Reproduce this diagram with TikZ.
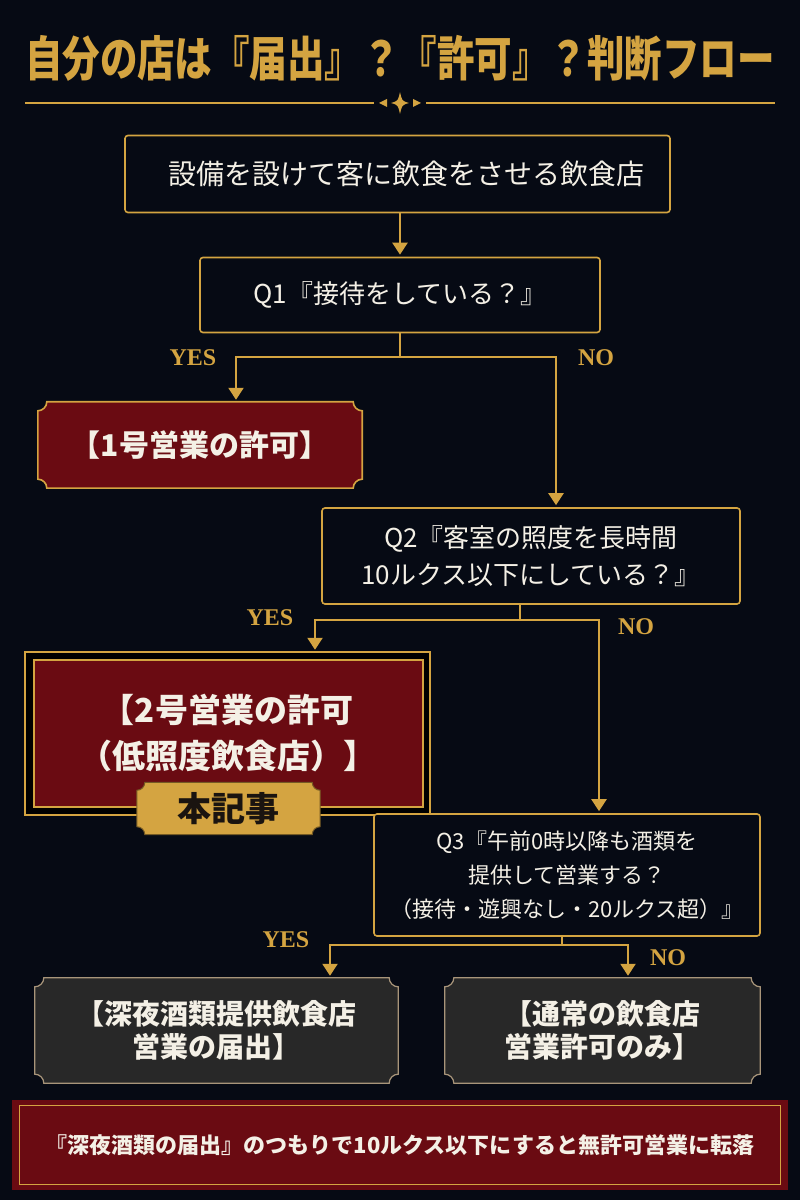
\documentclass[tikz,border=0pt]{standalone}
\usepackage{fontspec}
\setmainfont{Noto Sans CJK JP}
\newfontfamily\yesnofont{Liberation Serif}
\usetikzlibrary{arrows.meta, positioning, calc, backgrounds}
\definecolor{bgnavy}{HTML}{060A14}
\definecolor{gold}{HTML}{D4A441}
\definecolor{wine}{HTML}{6A0B12}
\definecolor{coal}{HTML}{282828}
\definecolor{tan}{HTML}{A8957A}
\definecolor{ivory}{HTML}{F4F0E6}
\definecolor{badgeink}{HTML}{1A1410}

% box outline with concave corners
\newcommand{\notchpath}[2]{%
  ([yshift=#2]#1.south west) -- ([yshift=-#2]#1.north west)
  arc[start angle=-90, end angle=0, radius=#2] -- ([xshift=-#2]#1.north east)
  arc[start angle=180, end angle=270, radius=#2] -- ([yshift=#2]#1.south east)
  arc[start angle=90, end angle=180, radius=#2] -- ([xshift=#2]#1.south west)
  arc[start angle=0, end angle=90, radius=#2] -- cycle}

\begin{document}
\begin{tikzpicture}[x=1pt, y=1pt,
    qbox/.style={draw=gold, line width=1.6pt, rounded corners=3pt, fill=bgnavy,
      text=ivory, align=center, inner sep=0pt},
    plain/.style={text=ivory, align=center, inner sep=0pt},
    flow/.style={draw=gold, line width=2.2pt},
    flowarrow/.style={flow, shorten >=2pt, -{Triangle[width=15pt,length=12pt]}},
    yesno/.style={text=gold, font=\yesnofont\bfseries\fontsize{24}{24}\selectfont}]
    \useasboundingbox (0,0) rectangle (800,1200);

    % Title
    \node[text=gold, yscale=1.28, font=\bfseries\fontsize{37.5}{38}\selectfont] (title) at (400,1142)
        {自分の店は『届出』？『許可』？判断フロー};
    \draw[gold, line width=1.5pt] (25,1097) -- (374,1097);
    \draw[gold, line width=1.5pt] (426,1097) -- (775,1097);
    \fill[gold] (400,1108) .. controls (402,1099) .. (409,1097) .. controls (402,1095) .. (400,1086)
        .. controls (398,1095) .. (391,1097) .. controls (398,1099) .. (400,1108);
    \fill[gold] (379,1097) -- (387,1101) -- (387,1093) -- cycle;
    \fill[gold] (421,1097) -- (413,1101) -- (413,1093) -- cycle;

    % Questions
    \node[qbox, minimum width=545, minimum height=77, font=\fontsize{28}{34}\selectfont] (start) at (397.5,1026)
        {\hspace*{18pt}設備を設けて客に飲食をさせる飲食店};
    \node[qbox, minimum width=400, minimum height=75, font=\fontsize{26}{32}\selectfont] (q1) at (400,905)
        {Q1『接待をしている？』};
    \node[qbox, minimum width=418, minimum height=96, font=\fontsize{26}{37}\selectfont] (q2) at (531,644)
        {Q2『客室の照度を長時間\\10ルクス以下にしている？』};
    \node[qbox, minimum width=386, minimum height=122, font=\fontsize{22}{34}\selectfont] (q3) at (567,325)
        {Q3『午前0時以降も酒類を\\提供して営業する？\\（接待・遊興なし・20ルクス超）』};

    % Results
    \node[plain, minimum width=324, minimum height=86, font=\bfseries\fontsize{30}{36}\selectfont] (perm1) at (200,755)
        {【1号営業の許可】};
    \node[plain, minimum width=405, minimum height=163, font=\bfseries\fontsize{33}{46}\selectfont] (perm2) at (227.5,466.5)
        {【2号営業の許可\\（低照度飲食店）】};
    \node[minimum width=183, minimum height=52, inner sep=0pt, text=badgeink,
        font=\bfseries\fontsize{34}{34}\selectfont] (badge) at (228.5,391.5) {本記事};
    \node[plain, minimum width=363, minimum height=105, font=\bfseries\fontsize{28}{33}\selectfont] (late) at (216.5,169.5)
        {【深夜酒類提供飲食店\\営業の届出】};
    \node[plain, minimum width=315, minimum height=105, font=\bfseries\fontsize{28}{33}\selectfont] (normal) at (602.5,169.5)
        {【通常の飲食店\\営業許可のみ】};
    \node[plain, minimum width=776, minimum height=90, font=\bfseries\fontsize{22}{24}\selectfont] (warn) at (400,55)
        {『深夜酒類の届出』のつもりで10ルクス以下にすると無許可営業に転落};

    % Frames
    \begin{scope}[on background layer]
        \fill[bgnavy] (0,0) rectangle (800,1200);
        \filldraw[fill=wine, draw=gold, line width=1.6pt] \notchpath{perm1}{9};
        \filldraw[fill=black, draw=gold, line width=2pt] (perm2.south west) rectangle (perm2.north east);
        \filldraw[fill=wine, draw=gold, line width=2.4pt] ([shift={(9,8)}]perm2.south west)
            rectangle ([shift={(-7,-8)}]perm2.north east);
        \filldraw[fill=gold, draw=gold!55!black, line width=1pt] \notchpath{badge}{8};
        \filldraw[fill=coal, draw=tan, line width=1.2pt] \notchpath{late}{9};
        \filldraw[fill=coal, draw=tan, line width=1.2pt] \notchpath{normal}{9};
        \fill[wine] (warn.south west) rectangle (warn.north east);
        \draw[gold, line width=1pt] ([shift={(8,6)}]warn.south west) rectangle ([shift={(-8,-6)}]warn.north east);
    \end{scope}

    % Connectors
    \coordinate (j1) at (400,843);
    \coordinate (j1yes) at (236,843);
    \coordinate (j1no) at (556,843);
    \coordinate (j2) at (520,580);
    \coordinate (j2yes) at (315,580);
    \coordinate (j2no) at (599,580);
    \coordinate (j3) at (562,255);
    \coordinate (j3yes) at (330,255);
    \coordinate (j3no) at (628,255);

    \draw[flowarrow] (q1.north |- start.south) -- (q1.north);
    \draw[flow] (q1.south) -- (j1);
    \draw[flowarrow] (j1) -- (j1yes) -- (j1yes |- perm1.north);
    \draw[flowarrow] (j1) -- (j1no) -- (j1no |- q2.north);
    \draw[flow] (j2 |- q2.south) -- (j2);
    \draw[flowarrow] (j2) -- (j2yes) -- (j2yes |- perm2.north);
    \draw[flowarrow] (j2) -- (j2no) -- (j2no |- q3.north);
    \draw[flow] (j3 |- q3.south) -- (j3);
    \draw[flowarrow] (j3) -- (j3yes) -- (j3yes |- late.north);
    \draw[flowarrow] (j3) -- (j3no) -- (j3no |- normal.north);

    % Branch labels
    \node[yesno] (yes1) at (193,842) {YES};
    \node[yesno] (no1) at (596,842) {NO};
    \node[yesno] (yes2) at (270,582) {YES};
    \node[yesno] (no2) at (636,573) {NO};
    \node[yesno] (yes3) at (286,260) {YES};
    \node[yesno] (no3) at (668,242) {NO};
\end{tikzpicture}
\end{document}
